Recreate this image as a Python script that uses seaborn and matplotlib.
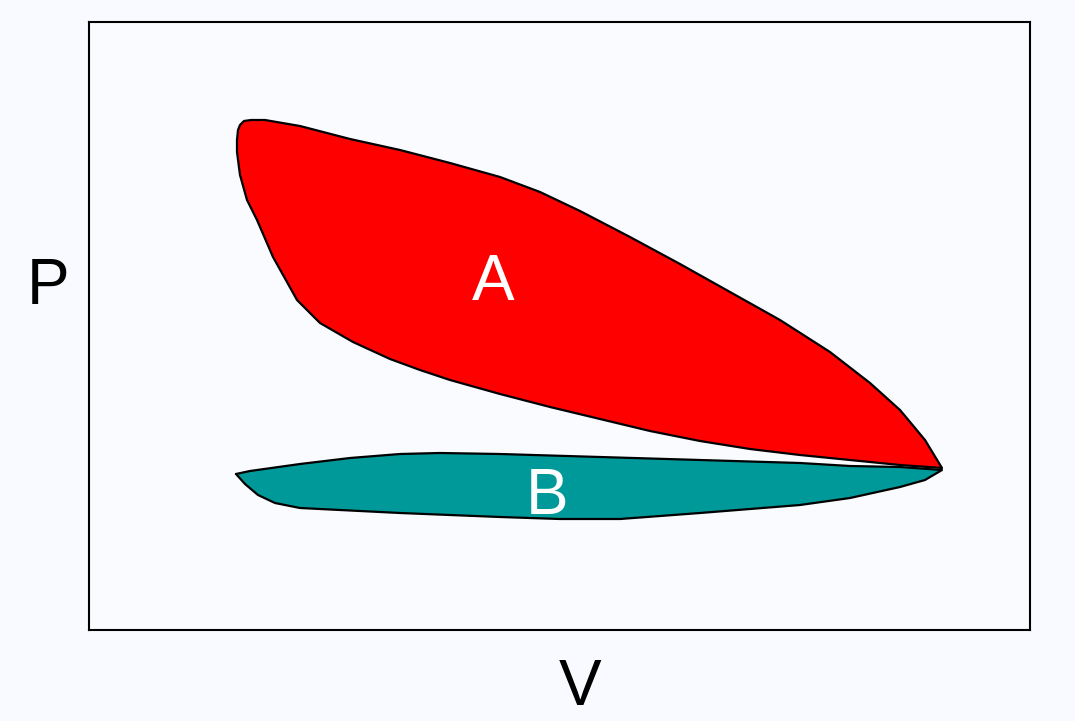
import matplotlib
matplotlib.use("Agg")
import matplotlib.pyplot as plt
import seaborn as sns
import pandas as pd

# Loop A (red): volume / pressure outline, clockwise from top-left
A_V = [148, 149, 151, 155, 162, 176, 211, 261, 311, 361, 411, 451, 491, 541, 591, 641, 691, 741, 781, 811, 836, 853,
       811, 761, 711, 661, 611, 561, 511, 461, 411, 361, 331, 301, 264, 231, 208, 184, 168, 158, 151, 148]
A_P = [490, 500, 505, 509, 510, 510, 504, 491, 480, 467, 453, 438, 419, 393, 366, 338, 310, 278, 247, 220, 190, 162,
       165, 170, 175, 181, 189, 199, 211, 223, 236, 250, 260, 271, 288, 307, 330, 373, 410, 430, 455, 478]

# Loop B (teal)
B_V = [147, 161, 211, 261, 311, 351, 411, 511, 611, 711, 761, 811, 853,
       836, 811, 761, 711, 611, 531, 471, 411, 311, 211, 186, 169, 156]
B_P = [156, 159, 166, 172, 176, 177, 176, 173, 170, 167, 164, 163, 160,
       150, 143, 132, 125, 117, 111, 111, 113, 117, 122, 127, 135, 146]

labels = {"A": (404, 330), "B": (458, 116)}
x_label, y_label = "V", "P"

sns.set_theme(style="white")
plt.rcParams['font.family'] = ['Liberation Sans', 'DejaVu Sans']

bg = "#f8faff"
fig = plt.figure(figsize=(10.75, 7.21), dpi=100, facecolor=bg)
ax = fig.add_axes([89/1075, 1-630/721, 941/1075, 608/721])
ax.set_facecolor("#f9fbff")

loops = [(A_V, A_P, "#ff0000"), (B_V, B_P, "#009999")]
for vs, ps, col in loops:
    ax.fill(vs, ps, facecolor=col, edgecolor="none", zorder=2)
    df = pd.DataFrame({"V": list(vs) + [vs[0]], "P": list(ps) + [ps[0]]})
    sns.lineplot(data=df, x="V", y="P", sort=False, estimator=None, color="black",
                 lw=1.6, ax=ax, zorder=3, solid_joinstyle="round")

for name, (lx, ly) in labels.items():
    ax.text(lx, ly, name, color="white", fontsize=46, ha="center", va="baseline", zorder=4)

ax.set_xlim(0, 941)
ax.set_ylim(0, 608)
ax.set_xticks([])
ax.set_yticks([])
ax.set_xlabel("")
ax.set_ylabel("")
for s in ax.spines.values():
    s.set_color("black")
    s.set_linewidth(1.5)
    s.set_visible(True)

fig.text(48/1075, 1-304/721, y_label, fontsize=46, ha="center", va="baseline", color="black")
fig.text(580/1075, 1-705/721, x_label, fontsize=46, ha="center", va="baseline", color="black")

fig.savefig("out.png", dpi=100, facecolor=bg)
